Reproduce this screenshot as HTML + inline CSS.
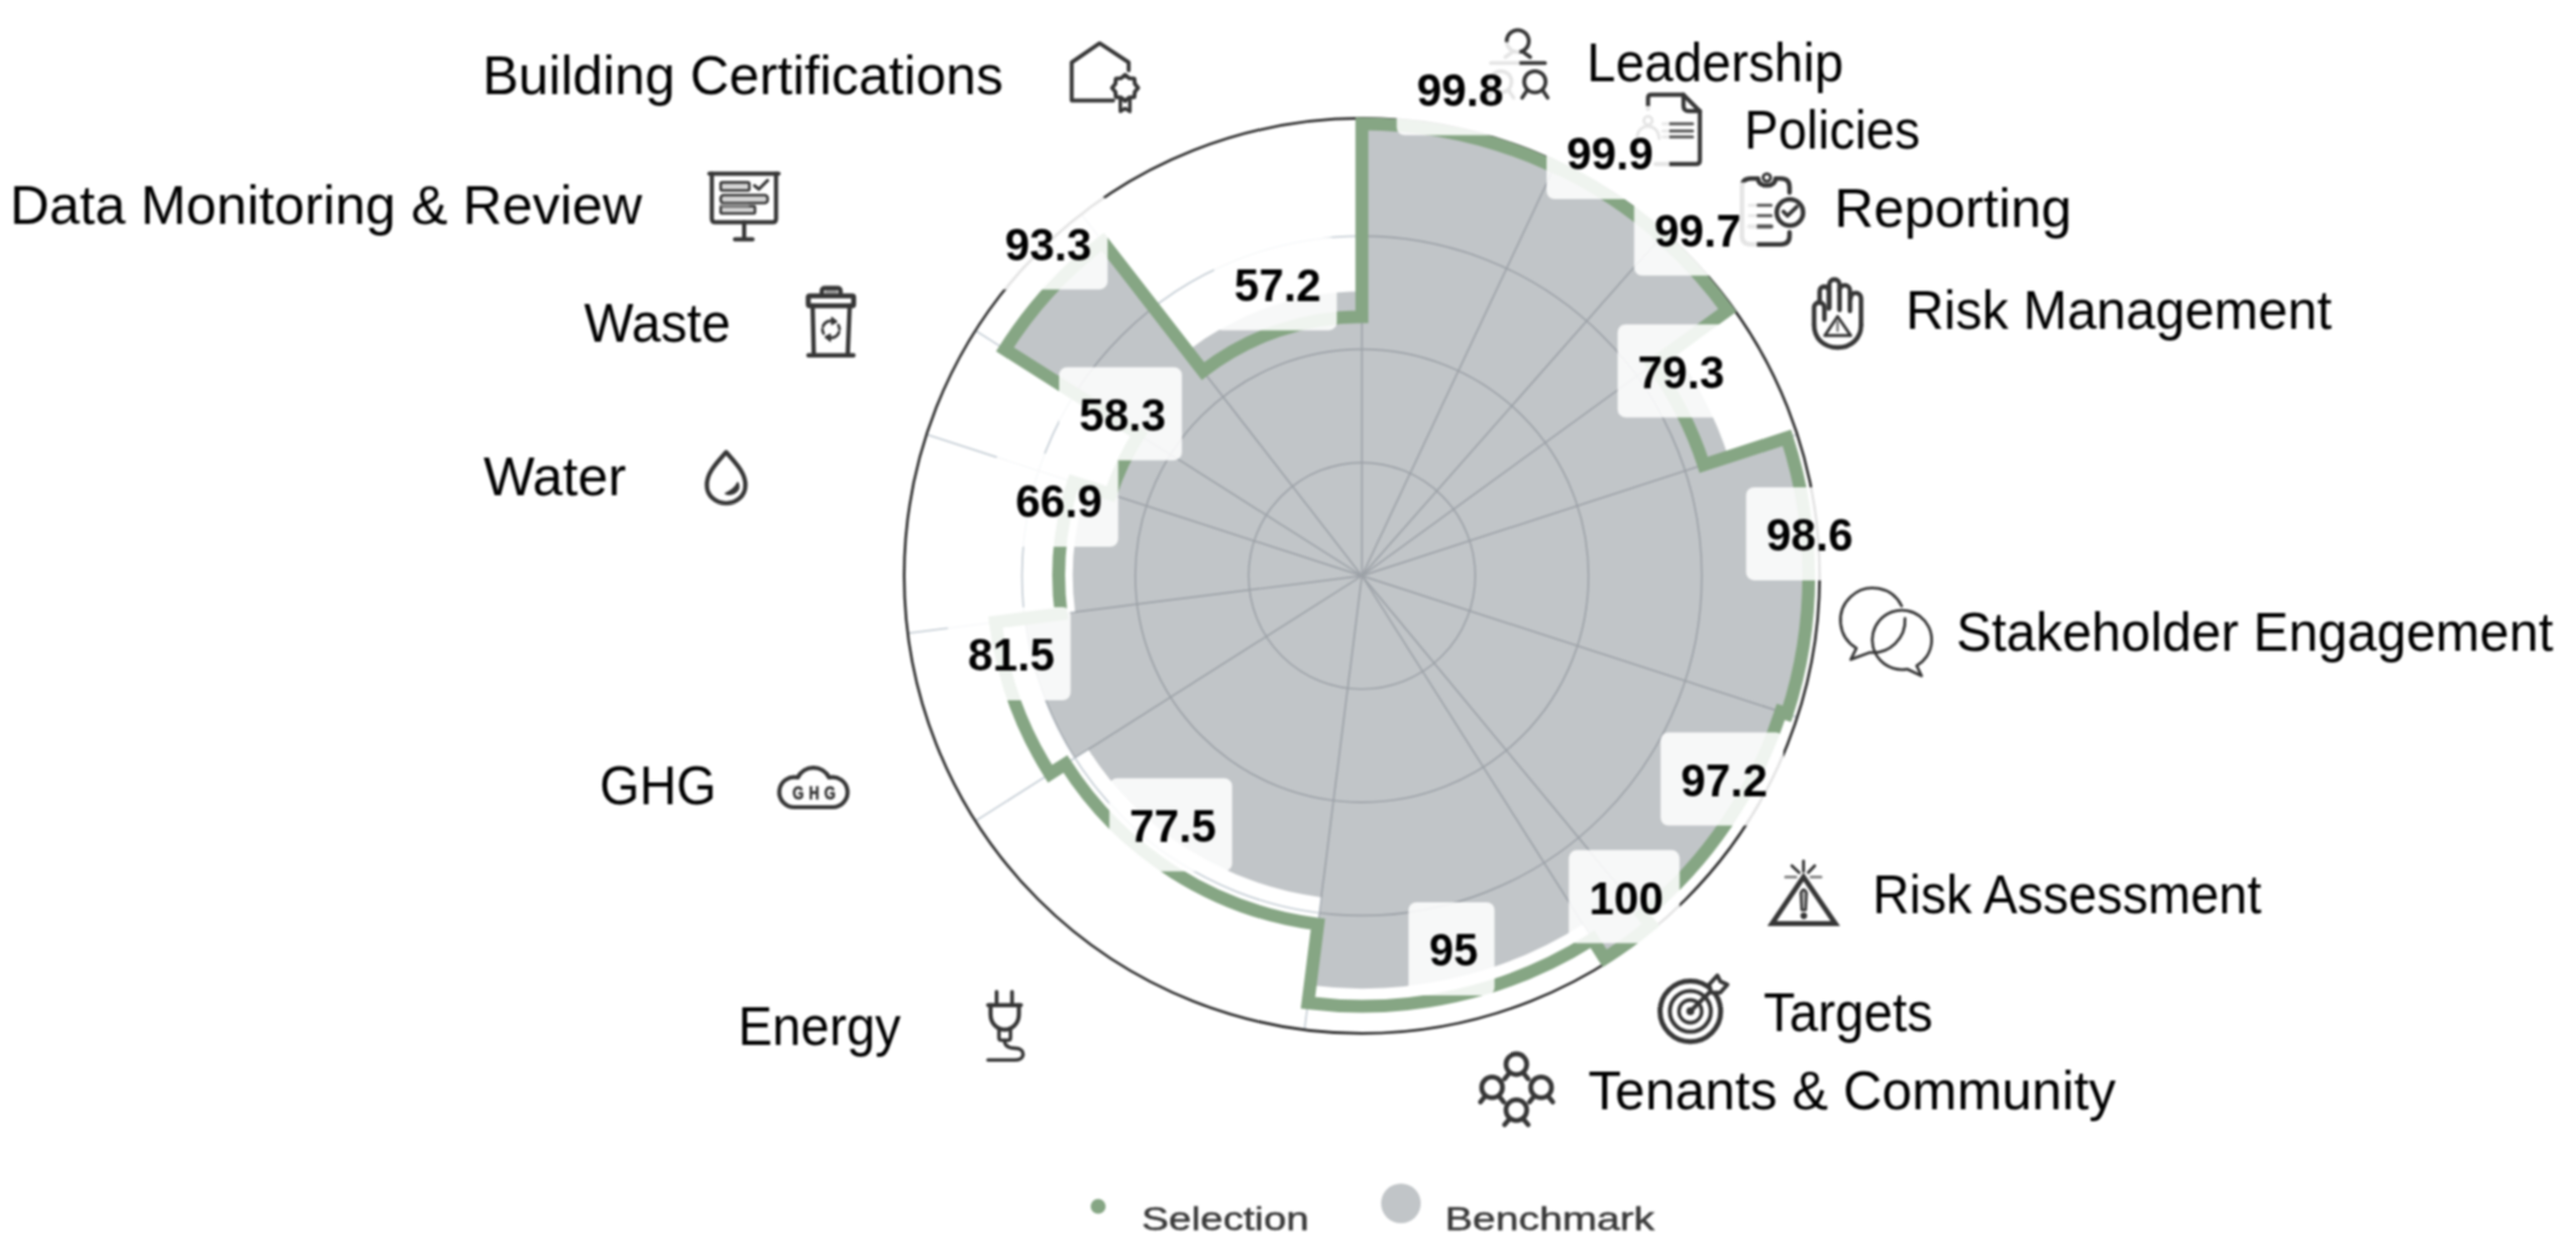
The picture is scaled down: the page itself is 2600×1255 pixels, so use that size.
<!DOCTYPE html>
<html lang="en"><head><meta charset="utf-8"><title>Chart</title>
<style>html,body{margin:0;padding:0;background:#fff}body{width:2600px;height:1255px;overflow:hidden}svg{display:block;filter:blur(0.9px)}</style></head>
<body>
<svg width="2600" height="1255" viewBox="0 0 2600 1255">
<defs>
<clipPath id="gc"><path d="M1374.6 125.8 A455.6 455.6 0 0 1 1568.58 169.16 L1568.58 169.16 A455.6 455.6 0 0 1 1675.89 239.65 L1675.29 240.34 A454.68 454.68 0 0 1 1742.44 314.15 L1689.16 352.86 A388.81 388.81 0 0 1 1744.38 461.25 L1801.81 442.59 A449.19 449.19 0 0 1 1801.81 720.21 L1795.72 718.23 A442.79 442.79 0 0 1 1656.84 922.57 L1664.72 932.09 A455.14 455.14 0 0 1 1618.48 965.69 L1597.89 933.24 A416.71 416.71 0 0 1 1322.37 994.83 L1333.61 905.88 A327.06 327.06 0 0 1 1098.45 756.65 L1084.94 765.23 A343.07 343.07 0 0 1 1034.24 624.4 L1085.06 617.98 A291.84 291.84 0 0 1 1097.05 491.22 L1122.28 499.42 A265.31 265.31 0 0 1 1150.59 439.24 L1016.19 353.95 A424.49 424.49 0 0 1 1114.43 245.99 L1198.53 354.42 A287.26 287.26 0 0 1 1374.6 294.14 Z"/></clipPath></defs>
<rect width="2600" height="1255" fill="#fff"/>
<g>
<g fill="none" stroke="#c9d1d8" stroke-width="1.8"><circle cx="1374.6" cy="581.4" r="114.36"/><circle cx="1374.6" cy="581.4" r="228.71"/><circle cx="1374.6" cy="581.4" r="343.07"/><line x1="1374.6" y1="581.4" x2="1374.6" y2="119.4"/><line x1="1374.6" y1="581.4" x2="1571.31" y2="163.37"/><line x1="1374.6" y1="581.4" x2="1680.13" y2="234.85"/><line x1="1374.6" y1="581.4" x2="1748.37" y2="309.84"/><line x1="1374.6" y1="581.4" x2="1813.99" y2="438.63"/><line x1="1374.6" y1="581.4" x2="1813.99" y2="724.17"/><line x1="1374.6" y1="581.4" x2="1669.09" y2="937.38"/><line x1="1374.6" y1="581.4" x2="1622.15" y2="971.48"/><line x1="1374.6" y1="581.4" x2="1316.7" y2="1039.76"/><line x1="1374.6" y1="581.4" x2="984.52" y2="828.95"/><line x1="1374.6" y1="581.4" x2="916.24" y2="639.3"/><line x1="1374.6" y1="581.4" x2="935.21" y2="438.63"/><line x1="1374.6" y1="581.4" x2="984.52" y2="333.85"/><line x1="1374.6" y1="581.4" x2="1091.44" y2="216.35"/></g>
<path d="M1374.6 125.8 A455.6 455.6 0 0 1 1568.58 169.16 L1568.58 169.16 A455.6 455.6 0 0 1 1675.89 239.65 L1675.29 240.34 A454.68 454.68 0 0 1 1742.44 314.15 L1689.16 352.86 A388.81 388.81 0 0 1 1744.38 461.25 L1801.81 442.59 A449.19 449.19 0 0 1 1801.81 720.21 L1795.72 718.23 A442.79 442.79 0 0 1 1656.84 922.57 L1664.72 932.09 A455.14 455.14 0 0 1 1618.48 965.69 L1597.89 933.24 A416.71 416.71 0 0 1 1322.37 994.83 L1333.61 905.88 A327.06 327.06 0 0 1 1098.45 756.65 L1084.94 765.23 A343.07 343.07 0 0 1 1034.24 624.4 L1085.06 617.98 A291.84 291.84 0 0 1 1097.05 491.22 L1122.28 499.42 A265.31 265.31 0 0 1 1150.59 439.24 L1016.19 353.95 A424.49 424.49 0 0 1 1114.43 245.99 L1198.53 354.42 A287.26 287.26 0 0 1 1374.6 294.14 Z" fill="#C1C5C8"/>
<g clip-path="url(#gc)"><g fill="none" stroke="#9da2a8" stroke-width="1.7"><circle cx="1374.6" cy="581.4" r="114.36"/><circle cx="1374.6" cy="581.4" r="228.71"/><circle cx="1374.6" cy="581.4" r="343.07"/><line x1="1374.6" y1="581.4" x2="1374.6" y2="119.4"/><line x1="1374.6" y1="581.4" x2="1571.31" y2="163.37"/><line x1="1374.6" y1="581.4" x2="1680.13" y2="234.85"/><line x1="1374.6" y1="581.4" x2="1748.37" y2="309.84"/><line x1="1374.6" y1="581.4" x2="1813.99" y2="438.63"/><line x1="1374.6" y1="581.4" x2="1813.99" y2="724.17"/><line x1="1374.6" y1="581.4" x2="1669.09" y2="937.38"/><line x1="1374.6" y1="581.4" x2="1622.15" y2="971.48"/><line x1="1374.6" y1="581.4" x2="1316.7" y2="1039.76"/><line x1="1374.6" y1="581.4" x2="984.52" y2="828.95"/><line x1="1374.6" y1="581.4" x2="916.24" y2="639.3"/><line x1="1374.6" y1="581.4" x2="935.21" y2="438.63"/><line x1="1374.6" y1="581.4" x2="984.52" y2="333.85"/><line x1="1374.6" y1="581.4" x2="1091.44" y2="216.35"/></g></g>
<circle cx="1374.6" cy="581.4" r="462" fill="none" stroke="#2f2f2f" stroke-width="2.7"/>
<path d="M1374.6 124.89 A456.51 456.51 0 0 1 1568.97 168.34 L1569.17 167.92 A456.97 456.97 0 0 1 1676.8 238.62 L1676.19 239.31 A456.05 456.05 0 0 1 1743.56 313.34 L1668.06 368.19 A362.74 362.74 0 0 1 1719.58 469.31 L1803.55 442.03 A451.02 451.02 0 0 1 1803.55 720.77 L1797.46 718.79 A444.62 444.62 0 0 1 1658.01 923.98 L1666.17 933.85 A457.43 457.43 0 0 1 1619.7 967.62 L1607.45 948.31 A434.55 434.55 0 0 1 1320.14 1012.53 L1330.17 933.11 A354.5 354.5 0 0 1 1075.28 771.35 L1059.83 781.16 A372.8 372.8 0 0 1 1004.74 628.12 L1071 619.75 A306.02 306.02 0 0 1 1083.56 486.84 L1120.97 498.99 A266.68 266.68 0 0 1 1149.44 438.51 L1014.26 352.72 A426.78 426.78 0 0 1 1113.02 244.18 L1214.23 374.66 A261.65 261.65 0 0 1 1374.6 319.75 Z" fill="none" stroke="#86A684" stroke-width="13" stroke-linejoin="miter" stroke-miterlimit="10"/>
<g fill="none" stroke="#363636" stroke-width="4" stroke-linecap="round" stroke-linejoin="round" ><path d="M1123.6 101.6H1081.7V63L1109.9 43.7L1139.2 63V71"/><path d="M1135.6 75.5 L1139.66 78.91 L1144.93 79.37 L1145.39 84.64 L1148.8 88.7 L1145.39 92.76 L1144.93 98.03 L1139.66 98.49 L1135.6 101.9 L1131.54 98.49 L1126.27 98.03 L1125.81 92.76 L1122.4 88.7 L1125.81 84.64 L1126.27 79.37 L1131.54 78.91Z" fill="#fff"/><path d="M1130.8 100.5V112.5L1135.6 109.5L1140.4 112.5V100.5" stroke-width="3.6"/></g>
<g fill="none" stroke="#363636" stroke-width="4.2" stroke-linecap="round" stroke-linejoin="round" ><path d="M716 175.3H785.8"/><path d="M718.5 175.3V221Q718.5 224.4 722 224.4H779.8Q783.3 224.4 783.3 221V175.3"/><path d="M751.1 224.4V241.7M741.8 241.7H759.6"/><g stroke-width="2.6" fill="#bbb"><rect x="727.4" y="184.1" width="28.9" height="8.1" rx="1.5" fill="#d4d4d4"/><rect x="727.4" y="197" width="47.4" height="8" rx="3" fill="#d4d4d4"/><rect x="727.4" y="208.3" width="34.6" height="7.2" rx="1" fill="#d4d4d4"/><path d="M728 207H755" stroke="#999" stroke-width="3"/></g><path d="M761.6 187.4L766 191L774.8 182.1" stroke-width="3.2"/></g>
<g fill="none" stroke="#363636" stroke-width="4.4" stroke-linecap="round" stroke-linejoin="round" ><path d="M829.5 298.7V294Q829.5 290.7 833 290.7H845Q848.4 290.7 848.4 294V298.7"/><path d="M834 294.5H844" stroke="#999" stroke-width="3"/><rect x="815.8" y="298.7" width="45.8" height="10.1" rx="1.5" stroke-width="5"/><path d="M820.2 308.8L821.4 358.7M857.6 308.8L855.6 358.7"/><path d="M816 358.7H861.4"/><g stroke-width="2.8"><path d="M830.62 329.56 A8.6 8.6 0 0 1 843 325.05"/><path d="M846.78 335.44 A8.6 8.6 0 0 1 834.4 339.95"/><path d="M846.15 328.2 A8.6 8.6 0 0 1 847.3 332.5"/><path d="M831.25 336.8 A8.6 8.6 0 0 1 830.1 332.5"/></g><path d="M839.5 320.5L844.5 324.5L839.5 327.5Z" fill="#363636" stroke-width="1.5"/><path d="M838 337.5L833 340.5L838 344.5Z" fill="#363636" stroke-width="1.5"/></g>
<g fill="none" stroke="#363636" stroke-width="4.4" stroke-linecap="round" stroke-linejoin="round" ><path d="M732.9 456.5C743 468 753 478 752.3 490.5A19.4 17.6 0 0 1 713.5 490.5C712.8 478 722.8 468 732.9 456.5Z"/><path d="M732.5 498.4C738.5 495.5 743 491.5 744.6 487.6C747.5 494 741.5 501 732.5 498.4Z" fill="#363636" stroke-width="2"/></g>
<g fill="none" stroke="#363636" stroke-width="4.2" stroke-linecap="round" stroke-linejoin="round" ><path d="M802 815H840.4A15.2 15.2 0 1 0 836.8 785A17.6 17.6 0 0 0 805.2 785A15.2 15.2 0 1 0 802 815Z"/></g><text transform="translate(821.6 807.4) scale(0.8 1)" font-family="'Liberation Sans', Arial, sans-serif" font-weight="700" font-size="18" text-anchor="middle" fill="#363636" stroke="#363636" stroke-width="0.7" textLength="54" lengthAdjust="spacing">GHG</text>
<g fill="none" stroke="#363636" stroke-width="4.2" stroke-linecap="round" stroke-linejoin="round" ><path d="M1005.9 1001.3V1014.8M1021.5 1001.3V1014.8" stroke-width="3.8"/><path d="M997.4 1014.8H1030.4"/><path d="M999.8 1014.8V1024C999.8 1034 1007 1039.7 1014.1 1039.7C1021 1039.7 1028.4 1034 1028.4 1024V1014.8"/><path d="M1008.3 1040V1047.5Q1008.3 1050.3 1011 1050.3H1017.2Q1019.9 1050.3 1019.9 1047.5V1040" stroke-width="3.6"/><path d="M1013.9 1050.6C1013.9 1057 1019 1058.4 1024.5 1058.4C1030 1058.4 1032.6 1061 1032.6 1064.2C1032.6 1068 1029 1070.3 1024 1070.3H997.2" stroke-width="3.6"/></g>
<g fill="none" stroke="#363636" stroke-width="3.8" stroke-linecap="round" stroke-linejoin="round" ><circle cx="1531.9" cy="41.5" r="11.2"/><path d="M1536.6 52L1544.4 57.6M1527.2 52L1519.4 57.6"/><path d="M1504.8 63.7H1559.4"/><circle cx="1549.2" cy="82.6" r="10.8"/><path d="M1541.3 91.2L1536.3 98.7M1557.1 91.2L1562.1 98.7"/><circle cx="1514.8" cy="82.6" r="10.8"/><path d="M1506.9 91.2L1501.9 98.7M1522.7 91.2L1527.7 98.7"/></g>
<g fill="none" stroke="#363636" stroke-width="4.2" stroke-linecap="round" stroke-linejoin="round" ><path d="M1663.4 110V99Q1663.4 95.7 1667 95.7H1699.2L1715.7 112.2V162Q1715.7 165.7 1712 165.7H1671"/><path d="M1699.2 95.7V107Q1699.2 112.2 1704.5 112.2H1715.7"/><path d="M1678.3 125.1H1708.4M1678.3 132.3H1708.4M1678.3 138.3H1708.4" stroke="#555" stroke-width="3"/><circle cx="1663.4" cy="121.8" r="4.2" stroke-width="3"/><path d="M1652.5 138C1653 131 1658 127.5 1663.4 127.5C1669 127.5 1674 131.5 1674.5 140" stroke-width="3"/></g>
<g fill="none" stroke="#363636" stroke-width="4.6" stroke-linecap="round" stroke-linejoin="round" ><path d="M1806.2 194.4V189Q1806.2 180.3 1797.5 180.3H1792.1C1792.1 185 1788 187.3 1783.3 187.3C1778.5 187.3 1774.4 185 1774.4 180.3H1767Q1758.3 180.3 1758.3 189V238Q1758.3 246.7 1767 246.7H1797.5Q1806.2 246.7 1806.2 238V234.6"/><circle cx="1783.3" cy="179.3" r="3.8" stroke-width="3"/><circle cx="1806.6" cy="214.5" r="13.3" stroke-width="4.6"/><path d="M1800 213.7L1804.2 217.9L1813.4 208.9" stroke-width="4"/><path d="M1765.6 207.2H1787.7M1765.6 217.7H1787.7" stroke="#555" stroke-width="3"/><path d="M1765.6 228.6H1787.7" stroke="#555" stroke-width="4.4"/></g>
<g fill="none" stroke="#363636" stroke-width="4.6" stroke-linecap="round" stroke-linejoin="round" ><path d="M1831 328V310.6A5.2 5.2 0 0 1 1841.4 310.6V322.7"/><path d="M1836.6 305V294A4.65 4.65 0 0 1 1845.9 294V311.4"/><path d="M1846.3 311V287.3A5.2 5.2 0 0 1 1856.7 287.3V313"/><path d="M1856.7 293.3A5.25 5.25 0 0 1 1867.2 293.3V313.9"/><path d="M1867.9 301A5.25 5.25 0 0 1 1878.4 301V328.3"/><path d="M1831 328C1831 342 1841 350.9 1854.7 350.9C1868 350.9 1878.4 342 1878.4 328.3"/><path d="M1854.7 319.5L1868 338.8H1841.8Z" stroke-width="3"/><path d="M1854.7 325V334" stroke="#777" stroke-width="2.4"/></g>
<g fill="none" stroke="#363636" stroke-width="2.8" stroke-linecap="round" stroke-linejoin="round" ><path d="M1922.74 624.37 A32.6 32.6 0 0 1 1887.3 658.77 L1868 665.9 L1873.75 654.45 A32.6 32.6 0 1 1 1919.4 611.8"/><path d="M1925.12 675.61 A30 30 0 1 1 1934.47 672.21 L1939.5 682.4Z"/></g>
<g fill="none" stroke="#363636" stroke-width="4" stroke-linecap="round" stroke-linejoin="round" ><path d="M1820.3 885.4L1852.5 932.5H1788.5Z" stroke-width="5" stroke-linejoin="miter"/><path d="M1820.3 869.3V879.4M1808.6 874.1L1815.9 881M1831.6 874.1L1825.1 881" stroke-width="3"/><path d="M1802.2 885.4H1812.7M1827.9 885.4H1838" stroke="#8a8a8a" stroke-width="3"/><path d="M1817.5 901.5Q1820.5 895 1823.5 901.5L1822.6 918.8H1818.4Z" stroke-width="2.4" fill="#aaa"/><circle cx="1820.6" cy="924.6" r="2.6" fill="#363636" stroke-width="1.5"/></g>
<g fill="none" stroke="#363636" stroke-width="4" stroke-linecap="round" stroke-linejoin="round" ><circle cx="1706.1" cy="1021.1" r="30.6" stroke-width="5"/><circle cx="1706.1" cy="1021.1" r="20.7" stroke-width="4"/><circle cx="1706.1" cy="1021.1" r="11.5" stroke-width="3.6"/><circle cx="1706.1" cy="1021.1" r="3" fill="#363636" stroke-width="2"/><path d="M1706.1 1021.1L1729 998.5" stroke-width="4.2"/><path d="M1733.4 984.9L1736.3 990.9L1743.5 994.1L1736.3 1002.2H1727.4L1725 994.1Z" fill="#fff" stroke-width="4"/></g>
<g fill="none" stroke="#363636" stroke-width="4.8" stroke-linecap="round" stroke-linejoin="round" ><circle cx="1530.5" cy="1074.5" r="10.5"/><path d="M1522.9 1084.1l-4.2 5.2M1538.1 1084.1l4.2 5.2"/><circle cx="1506" cy="1097.9" r="10.5"/><path d="M1498.4 1107.5l-4.2 5.2M1513.6 1107.5l4.2 5.2"/><circle cx="1555.5" cy="1097.9" r="10.5"/><path d="M1547.9 1107.5l-4.2 5.2M1563.1 1107.5l4.2 5.2"/><circle cx="1530.5" cy="1120.8" r="10.5"/><path d="M1522.9 1130.4l-4.2 5.2M1538.1 1130.4l4.2 5.2"/></g>
<g font-family="'Liberation Sans', Arial, sans-serif" font-size="55" fill="#000">
<text x="486.9" y="95.2" textLength="525.7" lengthAdjust="spacingAndGlyphs">Building Certifications</text>
<text x="10" y="225.6" textLength="638" lengthAdjust="spacingAndGlyphs">Data Monitoring &amp; Review</text>
<text x="589.5" y="344.5" textLength="148" lengthAdjust="spacingAndGlyphs">Waste</text>
<text x="488" y="499.9" textLength="143.9" lengthAdjust="spacingAndGlyphs">Water</text>
<text x="605.2" y="812.4" textLength="117.9" lengthAdjust="spacingAndGlyphs">GHG</text>
<text x="745" y="1055" textLength="164.1" lengthAdjust="spacingAndGlyphs">Energy</text>
<text x="1601.6" y="82.1" textLength="259.1" lengthAdjust="spacingAndGlyphs">Leadership</text>
<text x="1760.6" y="150.3" textLength="177.4" lengthAdjust="spacingAndGlyphs">Policies</text>
<text x="1851.2" y="228.9" textLength="239.8" lengthAdjust="spacingAndGlyphs">Reporting</text>
<text x="1923.4" y="332" textLength="430.1" lengthAdjust="spacingAndGlyphs">Risk Management</text>
<text x="1974.6" y="656.6" textLength="602.4" lengthAdjust="spacingAndGlyphs">Stakeholder Engagement</text>
<text x="1890" y="922.1" textLength="392.6" lengthAdjust="spacingAndGlyphs">Risk Assessment</text>
<text x="1779.9" y="1040.8" textLength="170.9" lengthAdjust="spacingAndGlyphs">Targets</text>
<text x="1602.9" y="1120" textLength="532.7" lengthAdjust="spacingAndGlyphs">Tenants &amp; Community</text>
</g>
<g fill="#fff" fill-opacity="0.87"><rect x="1409.7" y="42.5" width="123.9" height="94" rx="8" ry="8"/><rect x="1561" y="107" width="123.9" height="94" rx="8" ry="8"/><rect x="1649.4" y="184.3" width="123.9" height="94" rx="8" ry="8"/><rect x="1632.7" y="327.4" width="123.9" height="94" rx="8" ry="8"/><rect x="1762.4" y="491.9" width="123.9" height="94" rx="8" ry="8"/><rect x="1676.1" y="739.5" width="123.9" height="94" rx="8" ry="8"/><rect x="1583.45" y="858.3" width="111.8" height="94" rx="8" ry="8"/><rect x="1421.65" y="910.9" width="86.8" height="94" rx="8" ry="8"/><rect x="1119.7" y="785.7" width="123.9" height="94" rx="8" ry="8"/><rect x="956.7" y="613.1" width="123.9" height="94" rx="8" ry="8"/><rect x="1004.7" y="458.1" width="123.9" height="94" rx="8" ry="8"/><rect x="1069" y="370.7" width="123.9" height="94" rx="8" ry="8"/><rect x="994" y="198.2" width="123.9" height="94" rx="8" ry="8"/><rect x="1225.4" y="239.4" width="123.9" height="94" rx="8" ry="8"/></g>
<g font-family="'Liberation Sans', Arial, sans-serif" font-size="46.5" font-weight="700" text-anchor="middle" fill="#000"><text x="1473.8" y="106.8" textLength="87.56" lengthAdjust="spacingAndGlyphs">99.8</text><text x="1625.1" y="171.3" textLength="87.56" lengthAdjust="spacingAndGlyphs">99.9</text><text x="1713.5" y="248.6" textLength="87.56" lengthAdjust="spacingAndGlyphs">99.7</text><text x="1696.8" y="391.7" textLength="87.56" lengthAdjust="spacingAndGlyphs">79.3</text><text x="1826.5" y="556.2" textLength="87.56" lengthAdjust="spacingAndGlyphs">98.6</text><text x="1740.2" y="803.8" textLength="87.56" lengthAdjust="spacingAndGlyphs">97.2</text><text x="1641.5" y="922.6" textLength="75.04" lengthAdjust="spacingAndGlyphs">100</text><text x="1467.2" y="975.2" textLength="49.16" lengthAdjust="spacingAndGlyphs">95</text><text x="1183.8" y="850" textLength="87.56" lengthAdjust="spacingAndGlyphs">77.5</text><text x="1020.8" y="677.4" textLength="87.56" lengthAdjust="spacingAndGlyphs">81.5</text><text x="1068.8" y="522.4" textLength="87.56" lengthAdjust="spacingAndGlyphs">66.9</text><text x="1133.1" y="435" textLength="87.56" lengthAdjust="spacingAndGlyphs">58.3</text><text x="1058.1" y="262.5" textLength="87.56" lengthAdjust="spacingAndGlyphs">93.3</text><text x="1289.5" y="303.7" textLength="87.56" lengthAdjust="spacingAndGlyphs">57.2</text></g>
<circle cx="1108.4" cy="1218" r="7.6" fill="#86A684"/>
<circle cx="1414" cy="1215" r="20" fill="#C1C5C8"/>
<g font-family="'Liberation Sans', Arial, sans-serif" font-size="33" fill="#3a3a3a" stroke="#3a3a3a" stroke-width="0.5">
<text x="1152.2" y="1241.8" textLength="169" lengthAdjust="spacingAndGlyphs">Selection</text>
<text x="1458.4" y="1241.8" textLength="211.5" lengthAdjust="spacingAndGlyphs">Benchmark</text>
</g>
</g></svg>
</body></html>
